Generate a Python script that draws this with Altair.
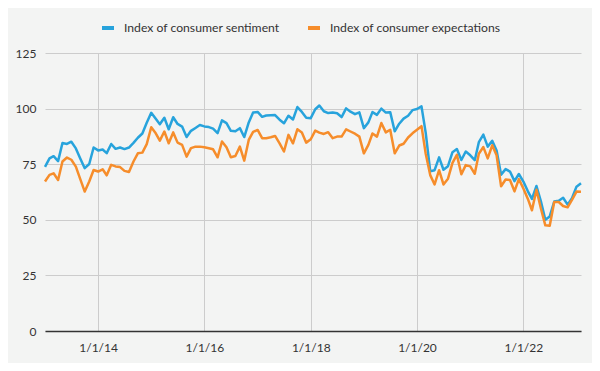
import altair as alt
import pandas as pd

# Monthly observations, Jan 2013 - Feb 2023
months = pd.date_range("2013-01-01", "2023-02-01", freq="MS").strftime("%Y-%m-%dT00:00:00").tolist()

sentiment = [
    73.8, 77.6, 78.6, 76.4, 84.5, 84.1, 85.1, 82.1, 77.5, 73.2, 75.1, 82.5,
    81.2, 81.6, 80.0, 84.1, 81.9, 82.5, 81.8, 82.5, 84.6, 86.9, 88.8, 93.6,
    98.1, 95.4, 93.0, 95.9, 90.7, 96.1, 93.1, 91.9, 87.2, 90.0, 91.3, 92.6,
    92.0, 91.7, 91.0, 89.0, 94.7, 93.5, 90.0, 89.8, 91.2, 87.2, 93.8, 98.2,
    98.5, 96.3, 96.9, 97.0, 97.1, 95.0, 93.4, 96.8, 95.1, 100.7, 98.5, 95.9,
    95.7, 99.7, 101.4, 98.8, 98.0, 98.2, 97.9, 96.2, 100.1, 98.6, 97.5, 98.3,
    91.2, 93.8, 98.4, 97.2, 100.0, 98.2, 98.4, 89.8, 93.2, 95.5, 96.8, 99.3,
    99.8, 101.0, 89.1, 71.8, 72.3, 78.1, 72.5, 74.1, 80.4, 81.8, 76.9, 80.7,
    79.0, 76.8, 84.9, 88.3, 82.9, 85.5, 81.2, 70.3, 72.8, 71.7, 67.4, 70.6,
    67.2, 62.8, 59.4, 65.2, 58.4, 50.0, 51.5, 58.2, 58.6, 59.9, 56.8, 59.7,
    64.9, 66.4,
]

expectations = [
    67.2, 70.2, 70.9, 67.9, 76.2, 78.0, 77.0, 73.9, 68.2, 62.7, 67.2, 72.4,
    71.7, 72.7, 70.0, 74.7, 74.0, 73.7, 72.0, 71.5, 76.2, 79.9, 80.2, 84.0,
    91.6, 88.9, 85.6, 89.7, 84.4, 89.3, 84.7, 83.7, 78.4, 82.2, 82.9, 82.9,
    82.6, 82.2, 81.7, 78.1, 85.2, 82.6, 78.1, 78.7, 82.9, 76.6, 85.9, 89.5,
    90.4, 86.7, 86.7, 87.1, 87.7, 84.4, 80.7, 88.2, 84.4, 90.7, 89.2, 84.7,
    86.2, 90.1, 89.2, 88.6, 89.4, 86.7, 87.4, 87.4, 90.7, 89.7, 88.7, 87.4,
    79.9, 83.7, 88.8, 87.4, 93.5, 89.3, 90.5, 79.9, 83.4, 84.2, 87.0, 88.9,
    90.5, 92.1, 79.7, 70.1, 65.9, 72.3, 65.9, 68.5, 75.6, 79.2, 70.5, 74.6,
    74.0, 70.7, 79.7, 82.7, 77.6, 83.5, 79.0, 65.1, 68.1, 67.9, 62.8, 68.3,
    64.1, 59.4, 54.3, 63.5, 55.2, 47.5, 47.3, 58.0, 58.0, 56.2, 55.6, 59.0,
    62.7, 62.6,
]

series_names = ["Index of consumer sentiment", "Index of consumer expectations"]
series_colors = ["#27a3dc", "#f68d2b"]
x_tick_years = [2014, 2016, 2018, 2020, 2022]
y_ticks = [0, 25, 50, 75, 100, 125]

rows = []
for name, vals in zip(series_names, [sentiment, expectations]):
    for d, v in zip(months, vals):
        rows.append({"date": d, "series": name, "value": v})
df = pd.DataFrame(rows)

FONT = "Lato"

chart = alt.Chart(df).mark_line(strokeWidth=2.5, strokeJoin="round").encode(
    x=alt.X(
        "date:T",
        scale=alt.Scale(
            domain=[alt.DateTime(year=2013, month=1, date=1), alt.DateTime(year=2023, month=2, date=1)],
            nice=False,
        ),
        axis=alt.Axis(
            values=[alt.DateTime(year=y, month=1, date=1) for y in x_tick_years],
            format="%-m/%-d/%y",
            title=None,
            grid=True,
            gridColor="#cccccc",
            ticks=False,
            domainColor="#333333",
            domainWidth=1.5,
            labelPadding=11,
            labelFontSize=12,
            labelColor="#333333",
            labelFont=FONT,
        ),
    ),
    y=alt.Y(
        "value:Q",
        scale=alt.Scale(domain=[0, 125], nice=False),
        axis=alt.Axis(
            values=y_ticks,
            title=None,
            domain=False,
            ticks=False,
            grid=True,
            gridColor="#cccccc",
            labelPadding=9,
            labelFontSize=12,
            labelColor="#333333",
            labelFont=FONT,
        ),
    ),
    color=alt.Color(
        "series:N",
        scale=alt.Scale(domain=series_names, range=series_colors),
        legend=alt.Legend(
            title=None,
            orient="none",
            direction="horizontal",
            legendX=55,
            legendY=-33,
            symbolType="stroke",
            symbolStrokeWidth=4,
            symbolSize=144,
            labelFontSize=12.2,
            labelFont=FONT,
            labelColor="#333333",
            labelOffset=8,
            labelLimit=0,
            columnPadding=20,
        ),
    ),
).properties(
    width=536,
    height=278,
    autosize=alt.AutoSizeParams(type="none"),
    padding={"left": 37, "top": 45, "right": 11, "bottom": 32},
    background="#f3f4f3",
).configure_view(stroke=None)

chart.save("out.html", embed_options={"renderer": "svg", "actions": False})
